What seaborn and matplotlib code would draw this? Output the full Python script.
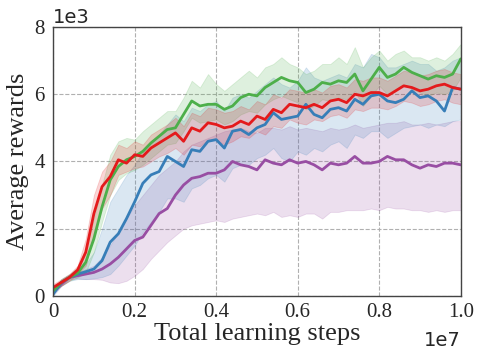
import matplotlib
matplotlib.use('Agg')
import matplotlib.pyplot as plt
import seaborn as sns
import pandas as pd
import numpy as np

sns.set_style('whitegrid')
plt.rcParams['font.family'] = ['Liberation Serif', 'DejaVu Serif']

# evaluation points (every 0.2e6 steps)
steps = np.arange(51) * 2e5

red_mean = [250, 400, 550, 770, 1300, 2450, 3250, 3550, 4050, 3950, 4200, 4150, 4400, 4550, 4700, 4850, 4600,
            5000, 4900, 5150, 5100, 5000, 5050, 5200, 5100, 5350, 5250, 5550, 5450, 5700, 5650, 5600, 5700, 5600,
            5800, 5850, 5750, 6000, 5950, 6050, 6050, 5950, 6100, 6250, 6200, 6100, 6150, 6250, 6300, 6200, 6150]
red_low = [150, 300, 450, 650, 900, 1900, 2600, 3000, 3600, 3700, 3800, 3850, 4000, 4150, 4250, 4400, 4200,
           4500, 4450, 4650, 4650, 4500, 4600, 4750, 4700, 4900, 4800, 5050, 5000, 5250, 5150, 5100, 5250, 5200,
           5350, 5400, 5300, 5550, 5500, 5600, 5600, 5550, 5650, 5800, 5750, 5650, 5700, 5800, 5850, 5750, 5700]
red_high = [350, 500, 650, 900, 1700, 3000, 3700, 4000, 4500, 4400, 4600, 4500, 4800, 4950, 5100, 5300, 5050,
            5450, 5350, 5600, 5550, 5450, 5500, 5650, 5550, 5800, 5700, 6000, 5900, 6150, 6100, 6050, 6150, 6050,
            6250, 6300, 6200, 6450, 6400, 6500, 6500, 6400, 6550, 6700, 6650, 6550, 6600, 6700, 6750, 6650, 6600]

green_mean = [150, 400, 550, 680, 1000, 1700, 2650, 3450, 3850, 4050, 4150, 4300, 4550, 4750, 4950, 5000, 5400,
              5800, 5650, 5700, 5700, 5550, 5650, 5900, 6000, 5950, 6200, 6350, 6500, 6400, 6350, 6050, 6150, 6350,
              6300, 6400, 6350, 6600, 6100, 6450, 6800, 6500, 6600, 6800, 6650, 6550, 6450, 6550, 6500, 6600, 7050]
green_low = [100, 300, 450, 550, 700, 1300, 2200, 3000, 3450, 3650, 3750, 3900, 4100, 4300, 4500, 4550, 4900,
             5300, 5150, 5200, 5250, 5100, 5200, 5400, 5500, 5450, 5700, 5850, 5950, 5850, 5750, 5550, 5650, 5850,
             5800, 5900, 5850, 6100, 5650, 5950, 6250, 6000, 6100, 6300, 6150, 6050, 5950, 6050, 6000, 6100, 6500]
green_high = [250, 500, 650, 850, 1400, 2300, 3300, 4200, 4600, 4700, 4650, 4900, 5100, 5300, 5500, 5500, 5900,
              6400, 6200, 6600, 6300, 6100, 6300, 6500, 6700, 6500, 6800, 6900, 7100, 6900, 6800, 6600, 6700, 6900,
              6900, 7100, 6900, 7400, 6800, 7100, 7300, 7000, 7200, 7300, 7100, 7100, 7000, 7100, 7000, 7200, 7500]

blue_mean = [50, 400, 550, 650, 720, 800, 1050, 1600, 1850, 2300, 2800, 3350, 3600, 3700, 4150, 4000, 3850,
             4350, 4300, 4600, 4650, 4400, 4900, 4950, 4800, 5000, 5100, 5450, 5250, 5300, 5350, 5700, 5400, 5300,
             5550, 5600, 5500, 5850, 5700, 5950, 6000, 5800, 5750, 5850, 6100, 5900, 5950, 5800, 5500, 6200, 6150]
blue_low = [0, 300, 450, 500, 500, 520, 560, 650, 900, 1200, 1500, 1900, 2200, 2500, 2900, 2900, 2800,
            3200, 3300, 3500, 3600, 3400, 3800, 3900, 3900, 4100, 4200, 4400, 4100, 4000, 4300, 4200, 4400, 4300,
            4500, 4600, 4400, 4800, 4700, 4900, 4900, 4700, 4850, 5000, 5050, 5100, 5000, 5100, 5050, 5200, 5250]
blue_high = [100, 500, 650, 800, 950, 1300, 2000, 2800, 3200, 3600, 3900, 4300, 4600, 4800, 5100, 5400, 5200,
             5600, 5500, 5700, 5800, 5500, 5900, 6000, 5900, 6100, 6300, 6500, 6300, 6200, 6400, 6800, 6500, 6400,
             6500, 6600, 6500, 6900, 6800, 7200, 7100, 6800, 6800, 6900, 7000, 6900, 6900, 6700, 6800, 7000, 7100]

purple_mean = [100, 350, 550, 600, 650, 700, 800, 950, 1150, 1400, 1650, 1750, 2100, 2450, 2600, 3000, 3300,
               3500, 3550, 3650, 3650, 3750, 4000, 3900, 3850, 3750, 4050, 3950, 3900, 4050, 3950, 4000, 3900, 3750,
               3950, 3900, 3950, 4150, 3950, 3950, 4000, 4150, 4050, 4050, 3900, 3800, 3900, 3850, 3950, 3950, 3900]
purple_low = [50, 300, 500, 520, 500, 500, 480, 400, 380, 450, 600, 800, 1100, 1350, 1600, 1800, 2000,
              2100, 2150, 2200, 2250, 2200, 2300, 2350, 2400, 2450, 2400, 2500, 2350, 2400, 2350, 2450, 2450, 2300,
              2500, 2500, 2550, 2550, 2550, 2600, 2550, 2650, 2600, 2600, 2550, 2550, 2500, 2550, 2500, 2550, 2550]
purple_high = [150, 450, 600, 700, 800, 900, 1150, 1500, 1900, 2300, 2700, 3000, 3300, 3600, 3800, 4000, 4300,
               4500, 4600, 4700, 4800, 4900, 4950, 5000, 4900, 4850, 5000, 5000, 4950, 5050, 4950, 5000, 4950, 4900,
               5000, 4950, 5000, 5100, 5000, 5050, 5100, 5150, 5150, 5200, 5100, 5100, 5150, 5100, 5150, 5200, 5200]

x_ticks = [0, 2e6, 4e6, 6e6, 8e6, 1e7]
x_ticklabels = ['0', '0.2', '0.4', '0.6', '0.8', '1.0']
y_ticks = [0, 2000, 4000, 6000, 8000]
y_ticklabels = ['0', '2', '4', '6', '8']

series = [
    ('purple', purple_mean, purple_low, purple_high, '#984ea3'),
    ('blue', blue_mean, blue_low, blue_high, '#377eb8'),
    ('green', green_mean, green_low, green_high, '#4daf4a'),
    ('red', red_mean, red_low, red_high, '#e41a1c'),
]

fig = plt.figure(figsize=(4.83, 3.6), dpi=100)
ax = fig.add_axes([0.11, 0.178, 0.844, 0.747])

for name, mean, low, high, color in series:
    ax.fill_between(steps, low, high, color=color, alpha=0.18, linewidth=0.6)

for name, mean, low, high, color in series:
    df = pd.DataFrame({'step': steps, 'reward': mean})
    sns.lineplot(data=df, x='step', y='reward', color=color, linewidth=2, ax=ax)

ax.set_xlim(0, 1e7)
ax.set_ylim(0, 8000)
ax.set_xticks(x_ticks)
ax.set_xticklabels(x_ticklabels)
ax.set_yticks(y_ticks)
ax.set_yticklabels(y_ticklabels)
ax.tick_params(axis='x', labelsize=15, length=3, pad=2, color='#222222')
ax.tick_params(axis='y', labelsize=15, length=0, pad=6)
ax.grid(True, linestyle='--', color='#b0b0b0', linewidth=0.8)

for sp in ax.spines.values():
    sp.set_color('#444444')
    sp.set_linewidth(1.0)

ax.set_xlabel('Total learning steps', fontsize=19, labelpad=1)
ax.set_ylabel('Average rewards', fontsize=19, labelpad=4)

ax.text(0.0, 1.0, '1e3', transform=ax.transAxes, fontsize=14, family='DejaVu Sans',
        ha='left', va='bottom')
ax.text(1.0, -0.13, '1e7', transform=ax.transAxes, fontsize=14, family='DejaVu Sans',
        ha='right', va='top')

fig.savefig('out.png', dpi=100)
